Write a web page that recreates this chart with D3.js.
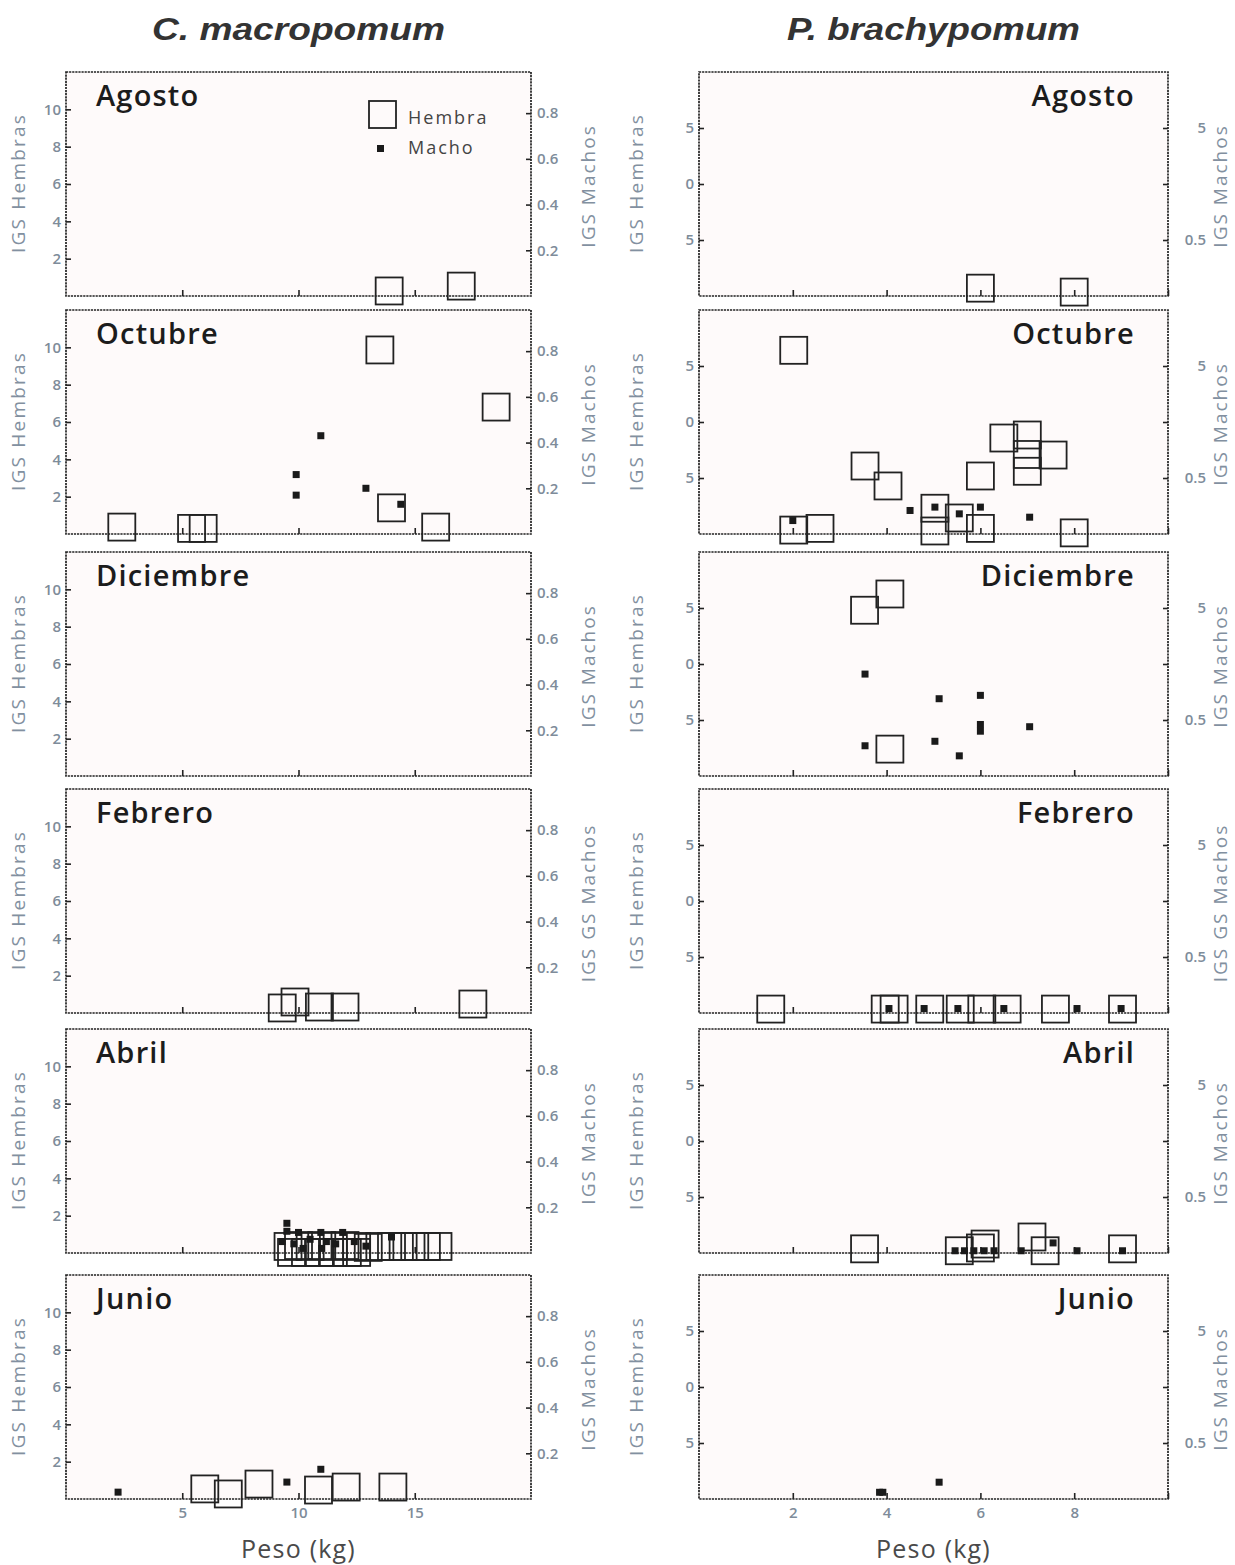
<!DOCTYPE html>
<html>
<head>
<meta charset="utf-8">
<script src="https://cdn.jsdelivr.net/npm/d3@7"></script>
<style>
  body { margin: 0; background: #fff; }
  svg text { font-family: "Open Sans", "DejaVu Sans", sans-serif; }
</style>
</head>
<body>
<svg id="chart" width="1235" height="1565"></svg>
<script>
/* IGS vs peso, two species, six sampling months. */

const months = ["Agosto", "Octubre", "Diciembre", "Febrero", "Abril", "Junio"];
const species = ["C. macropomum", "P. brachypomum"];

// tick values and the labels as printed
const cmXTicks = [5, 10, 15], cmXLabels = ["5", "10", "15"];
const cmYLTicks = [2, 4, 6, 8, 10], cmYLLabels = ["2", "4", "6", "8", "10"];
const cmYRTicks = [0.2, 0.4, 0.6, 0.8], cmYRLabels = ["0.2", "0.4", "0.6", "0.8"];
const pbXTicks = [2, 4, 6, 8, 10], pbXLabels = ["2", "4", "6", "8", ""];
const pbYLTicks = [5, 10, 15], pbYLLabels = ["5", "0", "5"];
const pbYRTicks = [0.5, 1, 1.5], pbYRLabels = ["0.5", "", "5"];

// C. macropomum : [peso kg, IGS]  (H = hembras, left axis; M = machos, right axis)
const cmAgostoH = [[13.9, 0.27], [17.0, 0.53]];
const cmAgostoM = [];
const cmOctubreH = [[13.5, 9.86], [18.5, 6.8], [14.0, 1.4], [2.4, 0.37], [5.4, 0.3], [5.9, 0.3], [15.9, 0.37]];
const cmOctubreM = [[10.96, 0.43], [9.9, 0.26], [9.9, 0.17], [12.9, 0.2], [14.4, 0.13]];
const cmDiciembreH = [];
const cmDiciembreM = [];
const cmFebreroH = [[9.3, 0.27], [9.85, 0.59], [10.9, 0.32], [12.0, 0.32], [17.5, 0.48]];
const cmFebreroM = [];
const cmAbrilH = [[9.55, 0.35], [10.0, 0.4], [10.5, 0.35], [11.0, 0.4], [11.5, 0.35], [12.0, 0.4], [12.5, 0.35],
  [13.0, 0.3], [13.5, 0.35], [14.0, 0.35], [14.5, 0.35], [15.0, 0.35], [15.5, 0.35], [16.0, 0.35],
  [9.7, 0.03], [10.3, 0.03], [10.9, 0.03], [11.5, 0.03], [12.1, 0.03], [12.5, 0.03]];
const cmAbrilM = [[9.5, 0.13], [9.5, 0.095], [10.0, 0.09], [9.3, 0.05], [9.8, 0.04], [10.5, 0.06], [10.96, 0.09],
  [11.2, 0.05], [11.9, 0.09], [11.6, 0.04], [12.4, 0.05], [12.9, 0.03], [14.0, 0.07], [10.2, 0.02], [11.0, 0.02]];
const cmJunioH = [[5.97, 0.54], [6.98, 0.27], [8.3, 0.8], [10.86, 0.48], [12.05, 0.64], [14.06, 0.64]];
const cmJunioM = [[2.24, 0.03], [9.5, 0.074], [10.96, 0.13]];

// P. brachypomum
const pbAgostoH = [[6.0, 0.7], [8.0, 0.35]];
const pbAgostoM = [];
const pbOctubreH = [[2.02, 16.4], [3.54, 6.07], [4.03, 4.29], [6.0, 5.18], [6.5, 8.57], [7.0, 8.84], [7.0, 7.1],
  [7.0, 5.6], [7.55, 7.05], [5.03, 2.3], [5.03, 0.27], [5.55, 1.43], [6.0, 0.5], [2.02, 0.35], [2.58, 0.5], [8.0, 0.1]];
const pbOctubreM = [[2.0, 0.12], [4.5, 0.21], [5.03, 0.24], [5.55, 0.18], [6.0, 0.24], [7.05, 0.15]];
const pbDiciembreH = [[3.53, 14.8], [4.07, 16.25], [4.07, 2.4]];
const pbDiciembreM = [[3.54, 0.91], [5.12, 0.69], [6.0, 0.72], [6.0, 0.46], [6.0, 0.4], [7.05, 0.44],
  [3.54, 0.27], [5.03, 0.31], [5.55, 0.18]];
const pbFebreroH = [[1.53, 0.35], [3.97, 0.35], [4.16, 0.35], [4.92, 0.35], [5.57, 0.35], [6.03, 0.35],
  [6.57, 0.35], [7.6, 0.35], [9.03, 0.35]];
const pbFebreroM = [[4.05, 0.04], [4.8, 0.04], [5.52, 0.04], [6.5, 0.04], [8.06, 0.04], [9.0, 0.04]];
const pbAbrilH = [[3.53, 0.37], [5.55, 0.2], [6.0, 0.45], [6.1, 0.8], [7.1, 1.43], [7.38, 0.2], [9.03, 0.37]];
const pbAbrilM = [[5.46, 0.02], [5.66, 0.02], [5.86, 0.02], [6.08, 0.02], [6.29, 0.02], [6.87, 0.02],
  [7.55, 0.09], [8.06, 0.02], [9.03, 0.02]];
const pbJunioH = [];
const pbJunioM = [[3.85, 0.06], [3.92, 0.06], [5.12, 0.15]];

const cmH = [cmAgostoH, cmOctubreH, cmDiciembreH, cmFebreroH, cmAbrilH, cmJunioH];
const cmM = [cmAgostoM, cmOctubreM, cmDiciembreM, cmFebreroM, cmAbrilM, cmJunioM];
const pbH = [pbAgostoH, pbOctubreH, pbDiciembreH, pbFebreroH, pbAbrilH, pbJunioH];
const pbM = [pbAgostoM, pbOctubreM, pbDiciembreM, pbFebreroM, pbAbrilM, pbJunioM];

/* ---------- layout ---------- */

const ROW_TOP = [72, 310, 552, 789, 1029, 1275];
const PANEL_H = 224;
const TICK_COLOR = "#7e8c9a";
const LABEL_COLOR = "#8290a0";
const INK = "#222";

const cols = [
  {
    x0: 66, x1: 531, xDom: [0, 20], yLDom: [0, 12], yRDom: [0, 0.98],
    xT: cmXTicks, xL: cmXLabels, yLT: cmYLTicks, yLL: cmYLLabels, yRT: cmYRTicks, yRL: cmYRLabels,
    hem: cmH, mac: cmM, monthRight: false, leftLabX: -46, rightLabX: 59, rAnchor: "start", rPad: 6
  },
  {
    x0: 699, x1: 1168, xDom: [0, 10], yLDom: [0, 20], yRDom: [0, 2],
    xT: pbXTicks, xL: pbXLabels, yLT: pbYLTicks, yLL: pbYLLabels, yRT: pbYRTicks, yRL: pbYRLabels,
    hem: pbH, mac: pbM, monthRight: true, leftLabX: -61, rightLabX: 54, rAnchor: "end", rPad: 38
  }
];

const svg = d3.select("#chart");

function styleAxis(sel) {
  sel.select(".domain").remove();
  sel.selectAll(".tick line").attr("stroke", INK).attr("stroke-width", 1.6);
  sel.selectAll(".tick text")
    .attr("fill", TICK_COLOR)
    .style("font-size", "15px")
    .style("font-weight", "600")
    .style("font-family", "'Open Sans', sans-serif");
}

function drawPanel(c, row, ci) {
  const top = ROW_TOP[row], bot = top + PANEL_H;
  const x = d3.scaleLinear().domain(c.xDom).range([c.x0, c.x1]);
  const yL = d3.scaleLinear().domain(c.yLDom).range([bot, top]);
  const yR = d3.scaleLinear().domain(c.yRDom).range([bot, top]);
  const g = svg.append("g");

  g.append("rect")
    .attr("x", c.x0).attr("y", top)
    .attr("width", c.x1 - c.x0).attr("height", PANEL_H)
    .attr("fill", "#fefafa")
    .attr("stroke", INK).attr("stroke-width", 1.7)
    .attr("stroke-dasharray", "2.2,0.9");

  // axes (ticks point inward)
  g.append("g").attr("transform", `translate(${c.x0},0)`)
    .call(d3.axisLeft(yL).tickValues(c.yLT).tickFormat((d, i) => c.yLL[i])
      .tickSizeInner(-5).tickSizeOuter(0).tickPadding(5))
    .call(styleAxis);

  const ra = g.append("g").attr("transform", `translate(${c.x1},0)`)
    .call(d3.axisRight(yR).tickValues(c.yRT).tickFormat((d, i) => c.yRL[i])
      .tickSizeInner(-5).tickSizeOuter(0).tickPadding(c.rPad))
    .call(styleAxis);
  ra.selectAll(".tick text").attr("text-anchor", c.rAnchor);

  const last = row === months.length - 1;
  g.append("g").attr("transform", `translate(0,${bot})`)
    .call(d3.axisBottom(x).tickValues(c.xT).tickFormat((d, i) => (last ? c.xL[i] : ""))
      .tickSizeInner(-6).tickSizeOuter(0).tickPadding(8))
    .call(styleAxis);

  // axis titles
  const midY = top + 111;
  g.append("text")
    .attr("transform", `translate(${c.x0 + c.leftLabX},${midY}) rotate(-90)`)
    .attr("text-anchor", "middle").attr("dominant-baseline", "middle")
    .attr("fill", LABEL_COLOR).style("font-size", "19px").style("letter-spacing", "2.2px")
    .text("IGS Hembras");
  g.append("text")
    .attr("transform", `translate(${c.x1 + c.rightLabX},${midY + 3}) rotate(-90)`)
    .attr("text-anchor", "middle").attr("dominant-baseline", "middle")
    .attr("fill", LABEL_COLOR).style("font-size", "19px").style("letter-spacing", "2px")
    .text(months[row] === "Febrero" ? "IGS  GS Machos" : "IGS Machos");

  // month
  g.append("text")
    .attr("x", c.monthRight ? c.x1 - 33 : c.x0 + 30)
    .attr("y", top + 34)
    .attr("text-anchor", c.monthRight ? "end" : "start")
    .attr("fill", "#1c1c1c").style("font-size", "29px").style("font-weight", "600")
    .style("letter-spacing", "1.2px")
    .text(months[row]);

  // hembras: open squares
  const S = 27;
  g.selectAll("rect.h").data(c.hem[row]).join("rect")
    .attr("class", "h")
    .attr("x", (d) => x(d[0]) - S / 2).attr("y", (d) => yL(d[1]) - S / 2)
    .attr("width", S).attr("height", S)
    .attr("fill", "none").attr("stroke", INK).attr("stroke-width", 1.8);

  // machos: small filled squares
  const s = 7;
  g.selectAll("rect.m").data(c.mac[row]).join("rect")
    .attr("class", "m")
    .attr("x", (d) => x(d[0]) - s / 2).attr("y", (d) => yR(d[1]) - s / 2)
    .attr("width", s).attr("height", s)
    .attr("fill", "#1a1a1a");

  if (last) {
    g.append("text")
      .attr("x", (c.x0 + c.x1) / 2).attr("y", 1558)
      .attr("text-anchor", "middle").attr("fill", "#4a4a4a")
      .style("font-size", "25px").style("letter-spacing", "1.2px")
      .text("Peso (kg)");
  }
}

cols.forEach((c, ci) => {
  months.forEach((m, row) => drawPanel(c, row, ci));
  svg.append("text")
    .attr("x", (c.x0 + c.x1) / 2).attr("y", 40)
    .attr("text-anchor", "middle")
    .attr("fill", "#333")
    .attr("textLength", 293).attr("lengthAdjust", "spacingAndGlyphs")
    .style("font-family", "'Liberation Sans', Arial, sans-serif")
    .style("font-size", "31px").style("font-weight", "bold").style("font-style", "italic")
    .text(species[ci]);
});

// legend (first panel only)
const lg = svg.append("g");
lg.append("rect").attr("x", 369).attr("y", 101).attr("width", 27).attr("height", 27)
  .attr("fill", "none").attr("stroke", INK).attr("stroke-width", 1.8);
lg.append("rect").attr("x", 377).attr("y", 145).attr("width", 7).attr("height", 7).attr("fill", "#1a1a1a");
lg.append("text").attr("x", 408).attr("y", 124).attr("fill", "#444")
  .style("font-size", "18px").style("letter-spacing", "2px").text("Hembra");
lg.append("text").attr("x", 408).attr("y", 154).attr("fill", "#444")
  .style("font-size", "18px").style("letter-spacing", "2px").text("Macho");
</script>
</body>
</html>
